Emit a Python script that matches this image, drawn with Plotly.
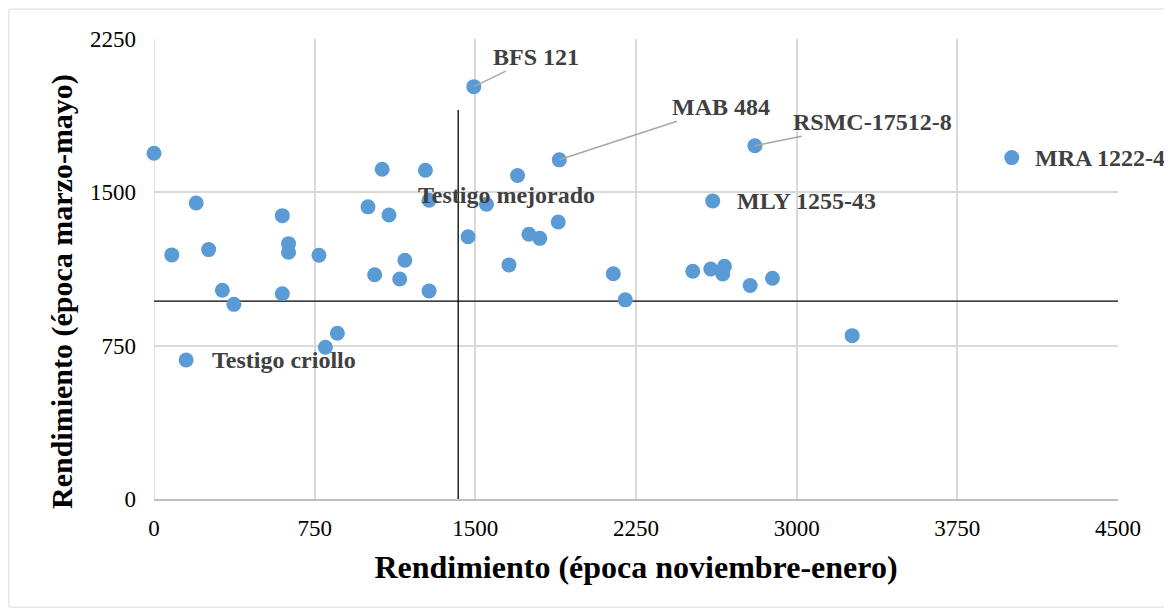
import plotly.graph_objects as go

# Data: yield in Nov-Jan season (x) and Mar-May season (y)
x_nov_ene = [0, 83, 150, 197, 255, 319, 373, 599, 599, 628, 628, 770, 800, 856,
             999, 1030, 1065, 1097, 1147, 1171, 1267, 1284, 1284, 1466, 1493, 1552,
             1657, 1697, 1750, 1801, 1887, 1892, 2144, 2200, 2515, 2599, 2608, 2655,
             2663, 2783, 2805, 2887, 3259, 4004]
y_mar_may = [1691, 1194, 680, 1448, 1220, 1021, 952, 1386, 1004, 1249, 1207, 1192, 742, 811,
             1429, 1097, 1613, 1389, 1076, 1168, 1608, 1461, 1018, 1283, 2017, 1442,
             1145, 1582, 1295, 1275, 1355, 1659, 1102, 974, 1114, 1125, 1458, 1101,
             1138, 1044, 1728, 1080, 799, 1670]

# Reference (mean) lines
mean_x = 1420
mean_y = 968
mean_x_line_y = [0, 1903]

# Labelled genotypes: (name, x, y)
label_names = ["BFS 121", "MAB 484", "RSMC-17512-8", "MLY 1255-43", "MRA 1222-4",
               "Testigo mejorado", "Testigo criollo"]
label_x = [1493, 1892, 2805, 2608, 4004, 1284, 150]
label_y = [2017, 1659, 1728, 1458, 1670, 1461, 680]

tick_vals = [0, 750, 1500, 2250, 3000, 3750, 4500]

x_title = "Rendimiento (época noviembre-enero)"
y_title = "Rendimiento (época marzo-mayo)"

fig = go.Figure()

fig.add_trace(go.Scatter(
    x=[mean_x, mean_x], y=mean_x_line_y, mode="lines",
    line=dict(color="black", width=1.3), hoverinfo="skip", showlegend=False))
fig.add_trace(go.Scatter(
    x=[0, 4500], y=[mean_y, mean_y], mode="lines",
    line=dict(color="black", width=1.3), hoverinfo="skip", showlegend=False))

fig.add_trace(go.Scatter(
    x=x_nov_ene, y=y_mar_may, mode="markers",
    marker=dict(color="#5B9BD5", size=15, line=dict(width=0)),
    cliponaxis=False, showlegend=False))

label_font = dict(family="Liberation Serif", size=24, color="#404040")

# label layout: (showarrow, ax, ay, xanchor, xshift, yshift)
label_style = {
    "BFS 121": (True, 62, -30, "center", 0, 0),
    "MAB 484": (True, 162, -53, "center", 0, 0),
    "RSMC-17512-8": (True, 118, -24, "center", 0, 0),
    "MLY 1255-43": (False, 0, 0, "left", 22, 0),
    "MRA 1222-4": (False, 0, 0, "left", 21, 0),
    "Testigo mejorado": (False, 0, 0, "left", -13, 5),
    "Testigo criollo": (False, 0, 0, "left", 24, 0),
}

for name, lx, ly in zip(label_names, label_x, label_y):
    sa, ax, ay, xa, xs, ys = label_style[name]
    if sa:
        fig.add_annotation(x=lx, y=ly, xref="x", yref="y", text="<b>%s</b>" % name,
                           showarrow=True, ax=ax, ay=ay, arrowhead=0, arrowwidth=1.5,
                           arrowcolor="#a6a6a6", standoff=0, font=label_font)
    else:
        fig.add_annotation(x=lx, y=ly, xref="x", yref="y", text="<b>%s</b>" % name,
                           showarrow=False, xanchor=xa, yanchor="middle",
                           xshift=xs, yshift=ys, font=label_font)

# y-axis title (placed as annotation to match the reference position)
fig.add_annotation(x=-0.0954, y=0.45, xref="paper", yref="paper",
                   text="<b>%s</b>" % y_title, textangle=-90, showarrow=False,
                   xanchor="center", yanchor="middle",
                   font=dict(family="Liberation Serif", size=30, color="#000000"))

# outer chart border
fig.add_shape(type="rect", xref="paper", yref="paper",
              x0=-0.1505, x1=1.0488, y0=-0.235, y1=1.065,
              line=dict(color="#d9d9d9", width=1), layer="below")

tick_font = dict(family="Liberation Serif", size=23, color="#000000")

fig.update_layout(
    width=1172, height=613,
    paper_bgcolor="white", plot_bgcolor="white",
    margin=dict(l=146, r=62, t=31, b=122),
    showlegend=False,
    xaxis=dict(range=[0, 4500], tickvals=tick_vals, showgrid=True,
               gridcolor="#d9d9d9", gridwidth=1.5, zeroline=False,
               showline=True, linecolor="#bfbfbf", linewidth=1.5,
               ticks="", tickfont=tick_font, ticklabelstandoff=8,
               title=dict(text="<b>%s</b>" % x_title,
                          font=dict(family="Liberation Serif", size=32, color="#000000"),
                          standoff=15)),
    yaxis=dict(range=[0, 2250], tickvals=[0, 750, 1500, 2250], showgrid=True,
               gridcolor="#d9d9d9", gridwidth=1.5, zeroline=False,
               showline=False, ticks="", tickfont=tick_font, ticklabelstandoff=17),
)

# gridline at x=0
fig.add_shape(type="line", xref="x", yref="paper", x0=0, x1=0, y0=0, y1=1,
              line=dict(color="#d9d9d9", width=1.5), layer="below")

fig.write_html("out.html")
